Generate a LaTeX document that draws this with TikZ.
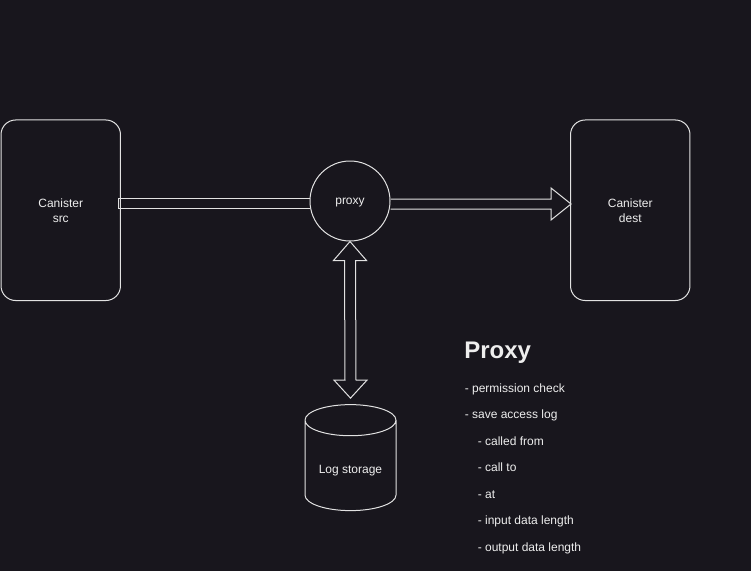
\documentclass[tikz,border=0pt]{standalone}
\usepackage{fontspec}
\setmainfont{Liberation Sans}
\usetikzlibrary{calc,shapes.geometric}
\definecolor{bgdark}{RGB}{24,22,29}
\definecolor{strokegrey}{RGB}{226,226,226}
\definecolor{textwhite}{RGB}{238,238,238}

\begin{document}
\begin{tikzpicture}[
            x=0.75pt, y=-0.75pt,
            every node/.style={text=textwhite, font=\fontsize{9}{11.25}\selectfont},
            canister/.style={draw=strokegrey, line width=0.75pt, rounded corners=11pt,
                minimum width=89.6pt, minimum height=135.4pt, align=center},
            proxynode/.style={draw=strokegrey, line width=0.75pt, circle, minimum size=60pt, inner sep=0pt,
                text height=6.4pt, text depth=1.9pt},
            storage/.style={draw=strokegrey, line width=0.75pt, cylinder, shape border rotate=90,
                aspect=3.5, minimum width=68.25pt, minimum height=79.5pt},
            blockarrow/.style={draw=strokegrey, line width=0.75pt, line join=miter},
            note/.style={anchor=base west, inner sep=0pt},
        ]
            \fill[bgdark] (0,0) rectangle (751,571);
            \useasboundingbox (0,0) rectangle (751,571);
            \node[canister] (src) at (60.75,210.25) {Canister\\src};
            \node[canister] (dest) at (630.25,210.25) {Canister\\dest};
            \node[proxynode] (proxy) at (350,201) {proxy};
            \node[storage] (log) at (350.5,469) {};
            \node[text height=6.4pt, text depth=1.9pt] (loglabel) at (350.5,470) {Log storage};
            % src -> proxy
            \draw[blockarrow] ($(proxy.west)+(0,-3)$) -- ($(src.east)+(-2,-12.25)$)
                -- ++(0,10) -- ($(proxy.west)+(0,7)$);
            % proxy -> dest
            \coordinate (desttip) at ($(dest.west)+(1,-6.25)$);
            \draw[blockarrow] ($(proxy.east |- desttip)+(0,-5)$) -- ($(desttip)+(-20,-5)$)
                -- ++(0,-11) -- (desttip) -- ++(-20,16) -- ++(0,-11)
                -- ($(proxy.east |- desttip)+(0,5)$);
            % proxy <-> log storage
            \coordinate (logtip) at ($(log.north)+(0,-6)$);
            \draw[blockarrow] (proxy.south) -- ++(16.5,19) -- ++(-11,0)
                -- ($(logtip)+(5.5,-18)$) -- ++(11,0) -- (logtip) -- ++(-16.5,-18)
                -- ++(11,0) -- ($(proxy.south)+(-5.5,19)$) -- ++(-11,0) -- cycle;
            % notes
            \node[note, font=\bfseries\fontsize{18}{21.6}\selectfont] (title) at (464,358) {Proxy};
            \node[note] (check) at (464.5,392) {- permission check};
            \node[note] (save) at (464.5,418.5) {- save access log};
            \node[note] (from) at (477.5,445) {- called from};
            \node[note] (to) at (477.5,471.5) {- call to};
            \node[note] (at) at (477.5,498) {- at};
            \node[note] (input) at (477.5,524.5) {- input data length};
            \node[note] (output) at (477.5,551) {- output data length};
        \end{tikzpicture}
\end{document}
